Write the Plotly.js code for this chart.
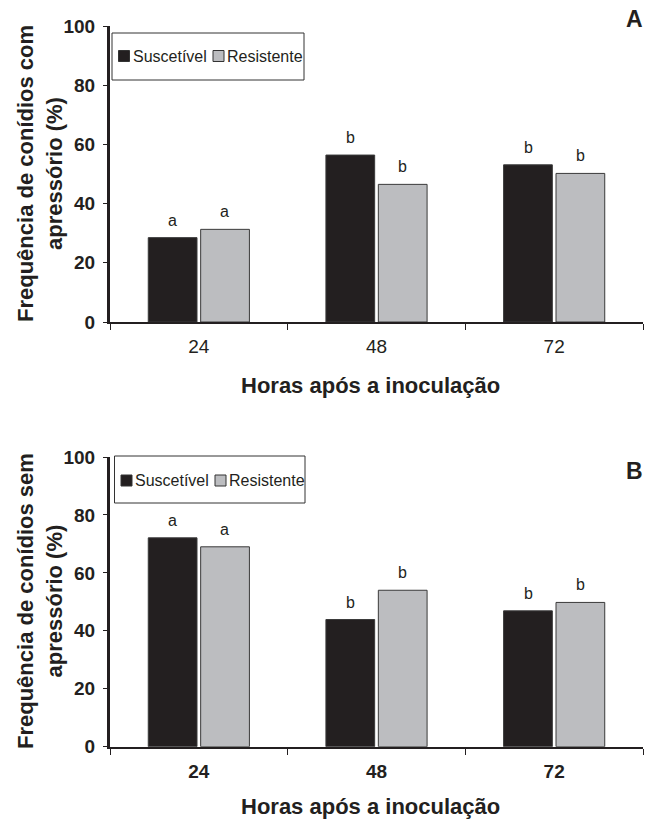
<!DOCTYPE html>
<html>
<head>
<meta charset="utf-8">
<script src="https://cdn.plot.ly/plotly-3.0.1.min.js"></script>
<style>html,body{margin:0;padding:0;background:#fff}#chart{width:647px;height:821px}</style>
</head>
<body>
<div id="chart"></div>
<script>
const hours = ['24', '48', '72'];
const seriesNames = ['Suscetível', 'Resistente'];
const comSus = [28.5, 56.4, 53.1];
const comRes = [31.3, 46.5, 50.2];
const semSus = [72.1, 43.9, 46.9];
const semRes = [69.0, 54.0, 49.8];
const comSusLetters = ['a', 'b', 'b'];
const comResLetters = ['a', 'b', 'b'];
const semSusLetters = ['a', 'b', 'b'];
const semResLetters = ['a', 'b', 'b'];
const yTickVals = [0, 20, 40, 60, 80, 100];
const panelLetters = ['A', 'B'];
const yTitles = ['Frequência de conídios com<br>apressório (%)', 'Frequência de conídios sem<br>apressório (%)'];
const xTitle = 'Horas após a inoculação';

const FONT = 'Liberation Sans, Arial, sans-serif';
const INK = '#231f20';
const DARK = '#231f20';
const GREY = '#bcbdc0';
const COLORS = [DARK, GREY];
const W = 647, H = 821;

function bar(name, y, color, xa, ya) {
  return {
    type: 'bar', name: name, x: hours, y: y, xaxis: xa, yaxis: ya,
    marker: {color: color, line: {color: '#3a3a3a', width: 1}},
    showlegend: false, hoverinfo: 'skip'
  };
}

const data = [
  bar(seriesNames[0], comSus, COLORS[0], 'x', 'y'),
  bar(seriesNames[1], comRes, COLORS[1], 'x', 'y'),
  bar(seriesNames[0], semSus, COLORS[0], 'x2', 'y2'),
  bar(seriesNames[1], semRes, COLORS[1], 'x2', 'y2')
];

const annotations = [];
const shapes = [];
function letters(vals, lets, xr, yr, shift) {
  vals.forEach((v, i) => annotations.push({
    x: i, y: v, xref: xr, yref: yr, text: lets[i], showarrow: false,
    xshift: shift, yshift: 7, yanchor: 'bottom', xanchor: 'center',
    font: {family: FONT, size: 16, color: INK}
  }));
}
letters(comSus, comSusLetters, 'x', 'y', -26);
letters(comRes, comResLetters, 'x', 'y', 26);
letters(semSus, semSusLetters, 'x2', 'y2', -26);
letters(semRes, semResLetters, 'x2', 'y2', 26);

const ttl = {family: FONT, size: 22, color: INK, weight: 'bold'};
const pl = {family: FONT, size: 23, color: INK, weight: 'bold'};
function P(x, y, text, font, extra) {
  return Object.assign({xref: 'paper', yref: 'paper', x: x / W, y: 1 - y / H, text: text,
    showarrow: false, font: font, xanchor: 'center', yanchor: 'middle'}, extra || {});
}
annotations.push(
  P(40, 174, yTitles[0], ttl, {textangle: -90}),
  P(40, 601, yTitles[1], ttl, {textangle: -90}),
  P(370, 386, xTitle, ttl),
  P(370, 806, xTitle, ttl),
  P(634, 18.5, panelLetters[0], pl),
  P(634.5, 470.5, panelLetters[1], pl)
);

// legend boxes (one per panel)
function legendBox(x0, y0, x1, y1, sw1, tx1, sw2, tx2, cy) {
  const px = v => v / W, py = v => 1 - v / H;
  shapes.push({type: 'rect', xref: 'paper', yref: 'paper', x0: px(x0), x1: px(x1), y0: py(y1), y1: py(y0),
    line: {color: '#333333', width: 1}, fillcolor: '#ffffff', layer: 'above'});
  [[sw1, tx1], [sw2, tx2]].forEach((p, k) => {
    shapes.push({type: 'rect', xref: 'paper', yref: 'paper', x0: px(p[0]), x1: px(p[0] + 11),
      y0: py(cy + 5.5), y1: py(cy - 5.5), line: {color: '#333333', width: 1}, fillcolor: COLORS[k], layer: 'above'});
    annotations.push({xref: 'paper', yref: 'paper', x: px(p[1]), y: py(cy), text: seriesNames[k], showarrow: false,
      xanchor: 'left', yanchor: 'middle', borderpad: 0, font: {family: FONT, size: 16, color: INK}});
  });
}
legendBox(112, 33, 304, 80, 118.5, 131.5, 213, 225.5, 56);
legendBox(114.5, 456, 305, 503, 121, 133.5, 215, 227.5, 480.5);

function xaxis(anchor, bold) {
  return {
    domain: [110 / W, 643 / W], anchor: anchor, type: 'category', range: [-0.5, 2.5],
    showline: true, linecolor: INK, linewidth: 2, showgrid: false, zeroline: false,
    ticks: 'outside', tickson: 'boundaries', ticklen: 6, tickwidth: 1, tickcolor: INK,
    tickmode: 'array', tickvals: hours, ticktext: hours.map(h => bold ? '<b>' + h + '</b>' : h),
    tickfont: {family: FONT, size: 19, color: INK},
    ticklabelstandoff: 6, fixedrange: true
  };
}
function yaxis(anchor, dom) {
  return {
    domain: dom, anchor: anchor, range: [0, 100], tickmode: 'array', tickvals: yTickVals,
    ticktext: yTickVals.map(v => '<b>' + v + '</b>'),
    showline: true, linecolor: INK, linewidth: 3, showgrid: false, zeroline: false,
    ticks: 'outside', ticklen: 4, tickwidth: 1, tickcolor: INK,
    tickfont: {family: FONT, size: 19, color: INK},
    ticklabelstandoff: 4, fixedrange: true
  };
}

const layout = {
  width: W, height: H, margin: {l: 0, r: 0, t: 0, b: 0},
  paper_bgcolor: '#ffffff', plot_bgcolor: '#ffffff',
  barmode: 'group', bargap: 0.41, bargroupgap: 0.07, showlegend: false,
  xaxis: xaxis('y', false), yaxis: yaxis('x', [1 - 322 / H, 1 - 26 / H]),
  xaxis2: xaxis('y2', true), yaxis2: yaxis('x2', [1 - 746.7 / H, 1 - 457 / H]),
  annotations: annotations, shapes: shapes, font: {family: FONT}
};

Plotly.newPlot('chart', data, layout, {displayModeBar: false, staticPlot: true});
</script>
</body>
</html>
